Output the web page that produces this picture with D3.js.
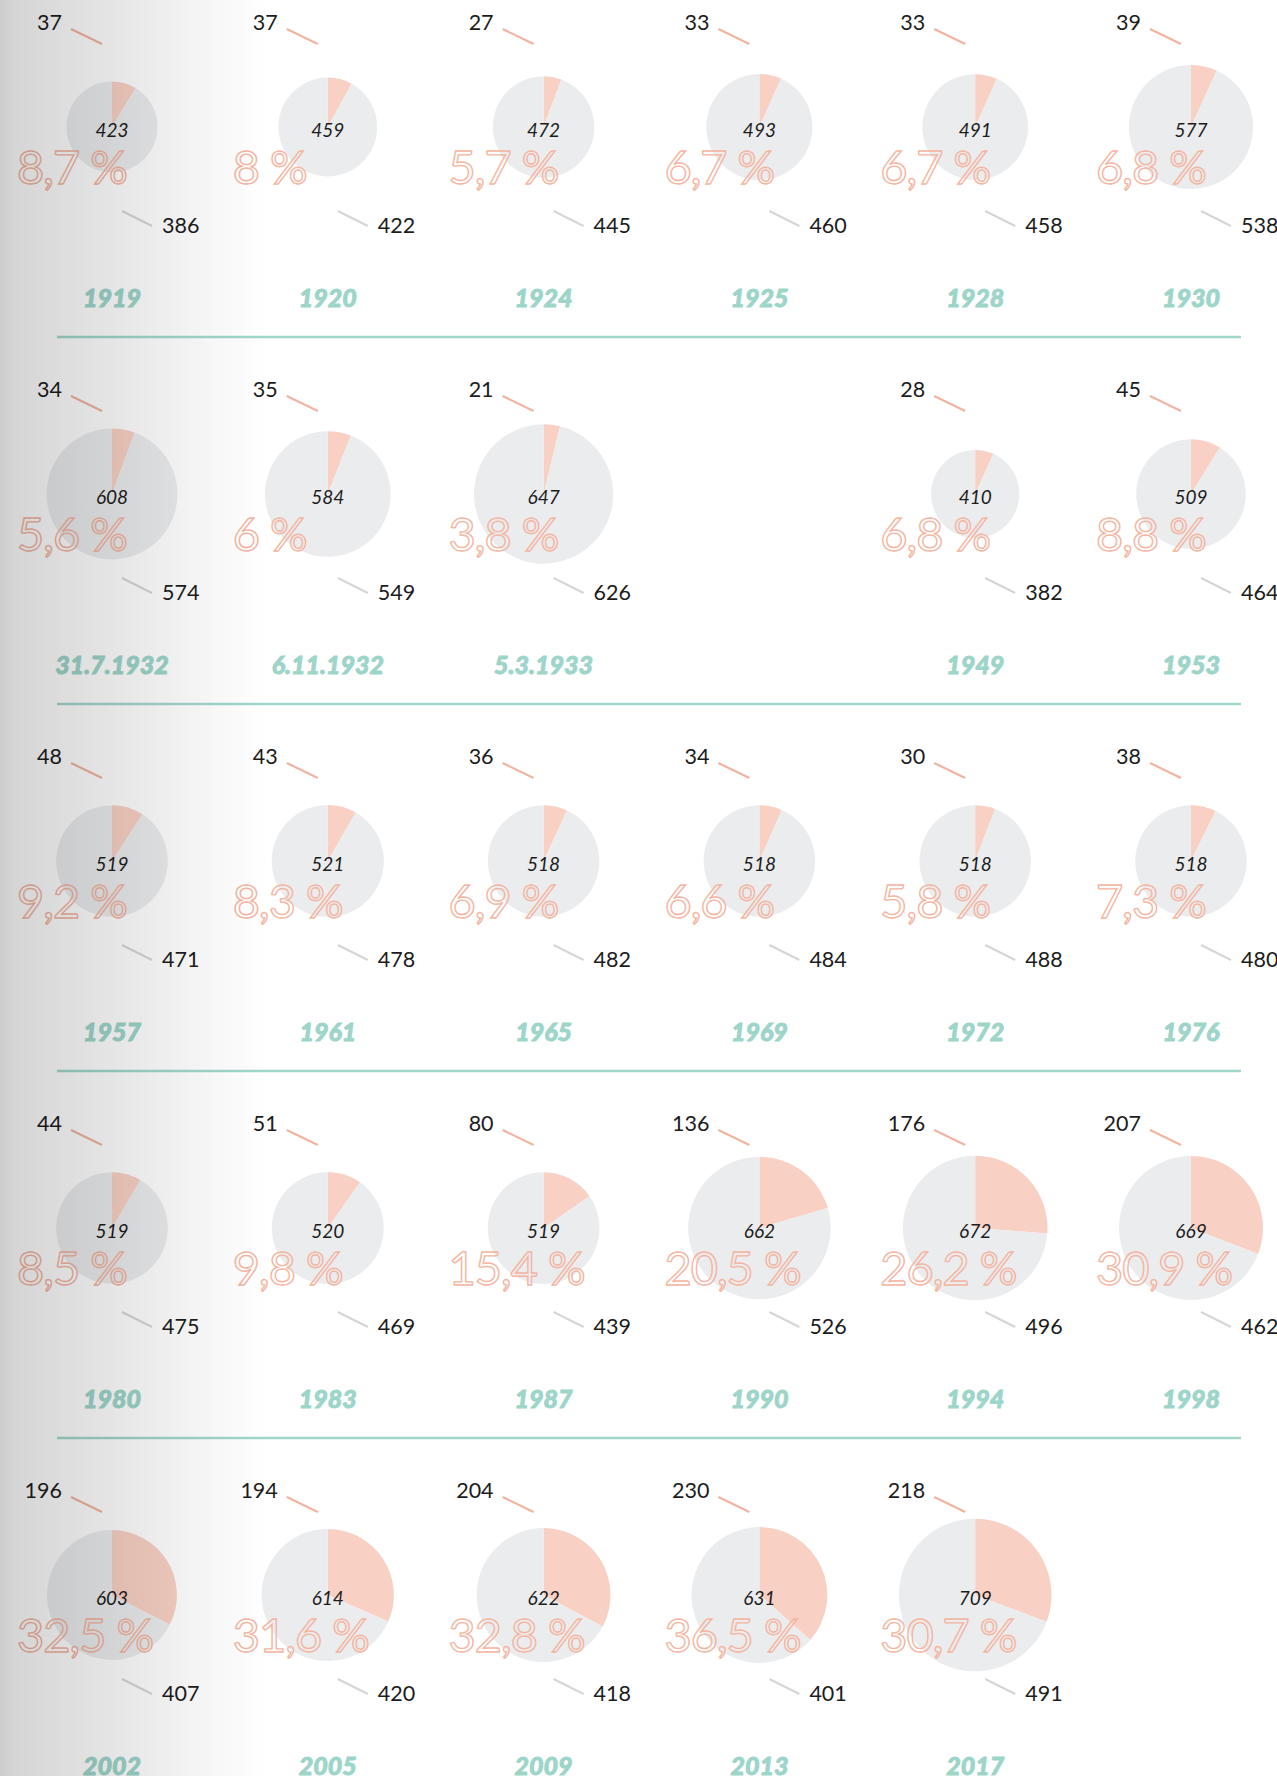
<!DOCTYPE html>
<html>
<head>
<meta charset="utf-8">
<script src="https://cdn.jsdelivr.net/npm/d3@7"></script>
<style>
  html, body { margin: 0; padding: 0; background: #ffffff; }
  svg { display: block; }
  .num { font-family: Lato, "Noto Sans", sans-serif; font-weight: 400; fill: #1c1c1c; }
</style>
</head>
<body>
<div id="chart"></div>
<script>
// Elections, seats of the highlighted group, total seats, remaining seats, share in %
const elections = ["1919", "1920", "1924", "1925", "1928", "1930",
                   "31.7.1932", "6.11.1932", "5.3.1933", "1949", "1953",
                   "1957", "1961", "1965", "1969", "1972", "1976",
                   "1980", "1983", "1987", "1990", "1994", "1998",
                   "2002", "2005", "2009", "2013", "2017"];
const womenSeats = [37, 37, 27, 33, 33, 39,
                    34, 35, 21, 28, 45,
                    48, 43, 36, 34, 30, 38,
                    44, 51, 80, 136, 176, 207,
                    196, 194, 204, 230, 218];
const totalSeats = [423, 459, 472, 493, 491, 577,
                    608, 584, 647, 410, 509,
                    519, 521, 518, 518, 518, 518,
                    519, 520, 519, 662, 672, 669,
                    603, 614, 622, 631, 709];
const otherSeats = [386, 422, 445, 460, 458, 538,
                    574, 549, 626, 382, 464,
                    471, 478, 482, 484, 488, 480,
                    475, 469, 439, 526, 496, 462,
                    407, 420, 418, 401, 491];
const sharePct = [8.7, 8, 5.7, 6.7, 6.7, 6.8,
                  5.6, 6, 3.8, 6.8, 8.8,
                  9.2, 8.3, 6.9, 6.6, 5.8, 7.3,
                  8.5, 9.8, 15.4, 20.5, 26.2, 30.9,
                  32.5, 31.6, 32.8, 36.5, 30.7];
// Grid slots, row by row (null = empty slot)
const gridOrder = ["1919", "1920", "1924", "1925", "1928", "1930",
                   "31.7.1932", "6.11.1932", "5.3.1933", null, "1949", "1953",
                   "1957", "1961", "1965", "1969", "1972", "1976",
                   "1980", "1983", "1987", "1990", "1994", "1998",
                   "2002", "2005", "2009", "2013", "2017", null];

const W = 1277, H = 1776, COLS = 6, ROWS = 5;

const records = elections.map((e, i) => ({
  label: e, women: womenSeats[i], total: totalSeats[i], other: otherSeats[i], pct: sharePct[i]
}));
const byLabel = new Map(records.map(r => [r.label, r]));

const svg = d3.select("#chart").append("svg")
  .attr("width", W).attr("height", H);

const x = d3.scalePoint().domain(d3.range(COLS)).range([112, 1191]);
const y = d3.scalePoint().domain(d3.range(ROWS)).range([127, 1595]);
const r = d3.scaleLinear().domain([0, 709]).range([0, 76.3]);
const pie = d3.pie().sort(null).value(d => d);
const arc = d3.arc().innerRadius(0);

const fmtPct = v => String(v).replace(".", ",") + " %";

// Row separators
svg.append("g").selectAll("line")
  .data(d3.range(ROWS - 1))
  .join("line")
  .attr("x1", 57).attr("x2", 1241)
  .attr("y1", d => y(d) + 210).attr("y2", d => y(d) + 210)
  .attr("stroke", "#a2d6cb").attr("stroke-width", 2.5);

const cells = gridOrder.map((lab, i) => ({ lab, col: i % COLS, row: Math.floor(i / COLS) }))
  .filter(c => c.lab !== null)
  .map(c => Object.assign({}, c, byLabel.get(c.lab)));

const g = svg.append("g").selectAll("g.cell")
  .data(cells)
  .join("g")
  .attr("class", "cell")
  .attr("transform", d => `translate(${x(d.col)},${y(d.row)})`);

// Pie: highlighted share from 12 o'clock clockwise, remainder grey
g.each(function(d) {
  const rad = r(d.total);
  d3.select(this).selectAll("path")
    .data(pie([d.pct, 100 - d.pct]))
    .join("path")
    .attr("d", a => arc.outerRadius(rad)(a))
    .attr("fill", (a, i) => i === 0 ? "#f8d0c4" : "#ebecee");
});

// Leader ticks
g.append("line")
  .attr("x1", -41).attr("y1", -98).attr("x2", -10).attr("y2", -83)
  .attr("stroke", "#f2b4a1").attr("stroke-width", 2.2);
g.append("line")
  .attr("x1", 10).attr("y1", 84).attr("x2", 40).attr("y2", 99)
  .attr("stroke", "#d6d6d6").attr("stroke-width", 2.2);

// Seat counts
g.append("text").attr("class", "num")
  .attr("x", -50).attr("y", -97)
  .attr("text-anchor", "end").attr("font-size", 21.5)
  .attr("font-weight", 300)
  .text(d => d.women);
g.append("text").attr("class", "num")
  .attr("x", 50).attr("y", 106)
  .attr("font-size", 21.5)
  .attr("font-weight", 300)
  .text(d => d.other);
g.append("text").attr("class", "num")
  .attr("x", 0).attr("y", 10)
  .attr("text-anchor", "middle").attr("font-size", 19)
  .attr("font-style", "italic")
  .text(d => d.total);

// Share, outlined
g.append("text")
  .attr("x", -95).attr("y", 57)
  .attr("font-family", "Lato, 'Noto Sans', sans-serif")
  .attr("font-weight", 400)
  .attr("font-size", 47)
  .attr("letter-spacing", -1)
  .attr("fill", "none")
  .attr("stroke", "#f4b5a1")
  .attr("stroke-width", 1.4)
  .text(d => fmtPct(d.pct));

// Election label
g.append("text")
  .attr("x", 0).attr("y", 180)
  .attr("text-anchor", "middle")
  .attr("font-family", "Lato, 'Noto Sans', sans-serif")
  .attr("font-weight", 900)
  .attr("font-style", "italic")
  .attr("font-size", 25)
  .attr("fill", "#9dd5c9")
  .attr("stroke", "#9dd5c9")
  .attr("stroke-width", 0.9)
  .text(d => d.label);

// Shaded left margin
const defs = svg.append("defs");
const grad = defs.append("linearGradient").attr("id", "edgeShade")
  .attr("x1", "0").attr("x2", "1").attr("y1", "0").attr("y2", "0");
[[0, 0.2], [0.05, 0.165], [0.4, 0.105], [0.8, 0.03], [1, 0]].forEach(([o, a]) => {
  grad.append("stop").attr("offset", o).attr("stop-color", "#000").attr("stop-opacity", a);
});
svg.append("rect")
  .attr("x", 0).attr("y", 0).attr("width", 270).attr("height", H)
  .attr("fill", "url(#edgeShade)")
  .attr("pointer-events", "none");
</script>
</body>
</html>
